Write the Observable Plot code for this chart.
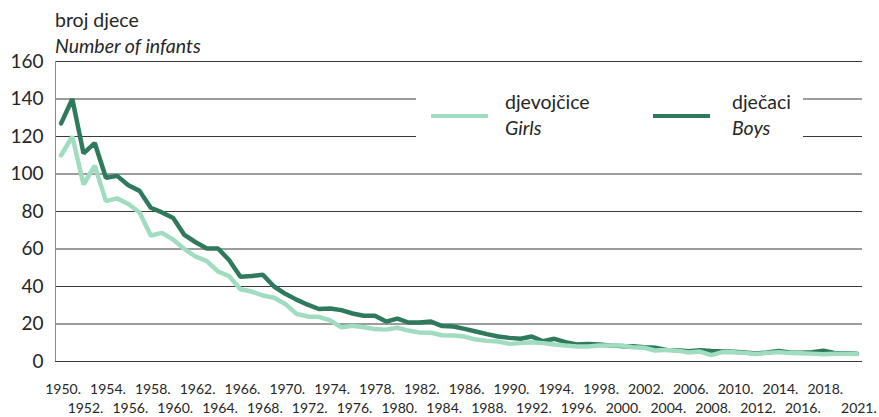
<!DOCTYPE html>
<html>
<head>
<meta charset="utf-8">
<script src="https://cdn.jsdelivr.net/npm/d3@7"></script>
<script src="https://cdn.jsdelivr.net/npm/@observablehq/plot@0.6"></script>
<style>
  html, body { margin: 0; padding: 0; background: #fff; }
  body { font-family: Lato, "Open Sans", sans-serif; color: #262626; }
  #wrap { position: relative; width: 879px; height: 417px; overflow: hidden; }
  #title { height: 50px; box-sizing: border-box; padding: 7px 0 0 55px; font-size: 19.5px; line-height: 26px; }
  #title .en { font-style: italic; }
  #legend { position: absolute; left: 416px; top: 84px; width: 387px; height: 66px; background: #fff; }
  .swatch { position: absolute; height: 4px; top: 30px; }
  .ltext { position: absolute; top: 5px; font-size: 19.5px; line-height: 26px; white-space: nowrap; }
  .ltext .en { font-style: italic; }
</style>
</head>
<body>
<div id="wrap">
  <div id="title"><div>broj djece</div><div class="en">Number of infants</div></div>
  <div id="chart"></div>
  <div id="legend"></div>
</div>
<script>
const years = [1950,1951,1952,1953,1954,1955,1956,1957,1958,1959,1960,1961,1962,1963,1964,1965,1966,1967,1968,1969,
  1970,1971,1972,1973,1974,1975,1976,1977,1978,1979,1980,1981,1982,1983,1984,1985,1986,1987,1988,1989,
  1990,1991,1992,1993,1994,1995,1996,1997,1998,1999,2000,2001,2002,2003,2004,2005,2006,2007,2008,2009,
  2010,2011,2012,2013,2014,2015,2016,2017,2018,2019,2020,2021];

const boys = [127,140,111,116.5,98,99,94,91,82,79.5,76.5,67.5,63.6,60.3,60.3,54,45.2,45.6,46.3,40,
  36.1,33,30.3,28,28.3,27.4,25.6,24.4,24.4,21.3,22.9,20.8,20.8,21.3,18.9,18.7,17.4,16,14.6,13.3,
  12.6,12.1,13.3,10.8,12.1,10.3,9.1,9.4,9.1,8.5,8.2,8.2,7.6,7.3,6.2,6.0,5.5,6.0,5.6,5.4,
  5.2,4.8,4.3,4.8,5.6,4.8,4.7,5.0,5.7,4.6,4.4,4.2];

const girls = [110,120,94.4,104.5,85.5,87,84,79.5,67.2,68.6,65,60,56,53.5,48,45.5,38.5,37.3,35.2,34,
  30.7,25.4,24,23.8,21.9,18.2,19,18.3,17.3,17,18,16.5,15.4,15.3,14,13.9,13.3,11.7,11,10.7,
  9.4,9.8,10.3,9.8,9.1,8.5,8,8,8.5,8.5,8.5,7.6,7.3,5.9,6.2,5.8,4.8,5.3,3.4,5.0,
  4.9,4.6,4.0,4.6,5.0,4.5,4.4,4.2,3.9,4.1,4.1,4.0];

const yTicks = [0,20,40,60,80,100,120,140,160];
const xTicksRow1 = [1950,1954,1958,1962,1966,1970,1974,1978,1982,1986,1990,1994,1998,2002,2006,2010,2014,2018];
const xTicksRow2 = [1952,1956,1960,1964,1968,1972,1976,1980,1984,1988,1992,1996,2000,2004,2008,2012,2016,2021];

const seriesNames = [
  {hr: "djevojčice", en: "Girls", color: "#9fdcc0"},
  {hr: "dječaci", en: "Boys", color: "#2f7a5c"}
];

const girlsData = years.map((y, i) => ({year: y, value: girls[i]}));
const boysData = years.map((y, i) => ({year: y, value: boys[i]}));

const chart = Plot.plot({
  width: 879,
  height: 367,
  marginLeft: 55,
  marginRight: 17,
  marginTop: 11,
  marginBottom: 56,
  style: {fontFamily: "Lato, 'Open Sans', sans-serif", color: "#262626", background: "#fff", overflow: "visible"},
  x: {domain: [years[0] - 0.5, years[years.length - 1] + 0.5]},
  y: {domain: [0, 160]},
  marks: [
    Plot.gridY(yTicks, {stroke: "#3a3a3a", strokeOpacity: 1, strokeWidth: 1}),
    Plot.ruleX([years[0] - 0.5], {stroke: "#8a8a8a", strokeWidth: 1}),
    Plot.axisY({ticks: yTicks, tickSize: 0, tickPadding: 12, fontSize: 19, label: null, tickFormat: d => String(d)}),
    Plot.axisX({ticks: xTicksRow1, tickSize: 0, tickPadding: 23, dx: 2, fontSize: 14, label: null, tickFormat: d => d + "."}),
    Plot.axisX({ticks: xTicksRow2, tickSize: 0, tickPadding: 42, dx: 2, fontSize: 14, label: null, tickFormat: d => d + "."}),
    Plot.line(boysData, {x: "year", y: "value", stroke: seriesNames[1].color, strokeWidth: 4.5, strokeLinejoin: "miter"}),
    Plot.line(girlsData, {x: "year", y: "value", stroke: seriesNames[0].color, strokeWidth: 4.5, strokeLinejoin: "miter"})
  ]
});
document.getElementById("chart").appendChild(chart);

// legend (HTML overlay)
const legend = document.getElementById("legend");
const layout = [{sw: 15, tx: 89}, {sw: 237, tx: 316}];
seriesNames.forEach((s, i) => {
  const sw = document.createElement("div");
  sw.className = "swatch";
  sw.style.left = layout[i].sw + "px";
  sw.style.width = "57px";
  sw.style.background = s.color;
  legend.appendChild(sw);
  const t = document.createElement("div");
  t.className = "ltext";
  t.style.left = layout[i].tx + "px";
  t.innerHTML = `<div>${s.hr}</div><div class="en">${s.en}</div>`;
  legend.appendChild(t);
});
</script>
</body>
</html>
